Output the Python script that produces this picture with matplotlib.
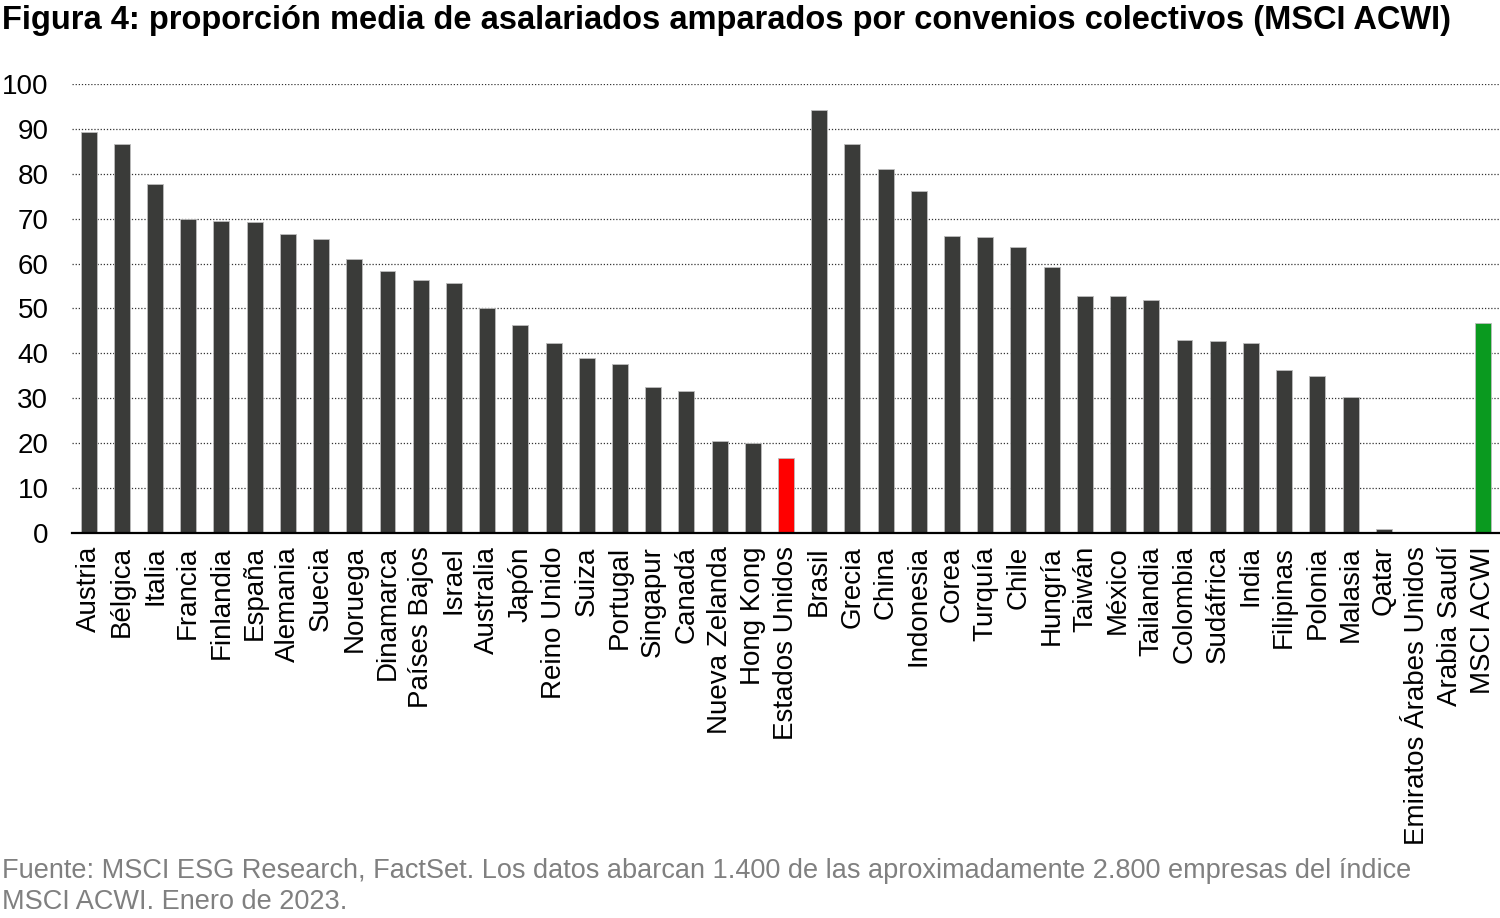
import matplotlib.pyplot as plt
import numpy as np

plt.rcParams['font.family'] = ['Liberation Sans', 'DejaVu Sans']

paises = ['Austria', 'Bélgica', 'Italia', 'Francia', 'Finlandia', 'España', 'Alemania',
          'Suecia', 'Noruega', 'Dinamarca', 'Países Bajos', 'Israel', 'Australia', 'Japón',
          'Reino Unido', 'Suiza', 'Portugal', 'Singapur', 'Canadá', 'Nueva Zelanda',
          'Hong Kong', 'Estados Unidos', 'Brasil', 'Grecia', 'China', 'Indonesia', 'Corea',
          'Turquía', 'Chile', 'Hungría', 'Taiwán', 'México', 'Tailandia', 'Colombia',
          'Sudáfrica', 'India', 'Filipinas', 'Polonia', 'Malasia', 'Qatar',
          'Emiratos Árabes Unidos', 'Arabia Saudí', 'MSCI ACWI']
valores = [89.3, 86.6, 77.7, 69.9, 69.5, 69.3, 66.6, 65.5, 61.0, 58.4, 56.3, 55.7, 50.1,
           46.3, 42.3, 39.0, 37.6, 32.5, 31.6, 20.5, 20.0, 16.7, 94.2, 86.6, 81.1, 76.2,
           66.1, 65.9, 63.7, 59.2, 52.8, 52.8, 51.9, 43.0, 42.8, 42.3, 36.3, 35.0, 30.3,
           0.9, 0.0, 0.0, 46.8]

colores = []
for p in paises:
    if p == 'Estados Unidos':
        colores.append('#ff0000')
    elif p == 'MSCI ACWI':
        colores.append('#0a9a1f')
    else:
        colores.append('#3a3b39')

fig = plt.figure(figsize=(15, 9.18), dpi=100)
ax = fig.add_axes([0.048, 0.4194, 0.952, 0.4891])

x = np.arange(len(paises))
ax.bar(x, valores, width=0.48, color=colores, edgecolor='#bdbdbd', linewidth=0.6, zorder=3)

ax.set_xlim(-0.5, len(paises) - 0.5)
ax.set_ylim(0, 100)
ax.set_yticks(range(0, 101, 10))
ax.yaxis.grid(True, linestyle=(0, (1, 1.5)), color='#333333', linewidth=0.9, zorder=0)
ax.set_xticks(x)
ax.set_xticklabels(paises, rotation=90, fontsize=20)
ax.tick_params(axis='y', labelsize=20, length=0, pad=17)
ax.tick_params(axis='x', length=0, pad=9.5)

for s in ['top', 'right', 'left']:
    ax.spines[s].set_visible(False)
ax.spines['bottom'].set_linewidth(1.6)
ax.spines['bottom'].set_color('black')
ax.spines['bottom'].set_zorder(4)

fig.text(0.001, 0.978, 'Figura 4: proporción media de asalariados amparados por convenios colectivos (MSCI ACWI)',
         fontsize=23.5, fontweight='bold', va='center', ha='left')
fig.text(0.001, 0.003, 'Fuente: MSCI ESG Research, FactSet. Los datos abarcan 1.400 de las aproximadamente 2.800 empresas del índice\nMSCI ACWI. Enero de 2023.',
         fontsize=19.5, color='#808080', va='bottom', ha='left', linespacing=1.25)

fig.savefig('out.png', dpi=100)
